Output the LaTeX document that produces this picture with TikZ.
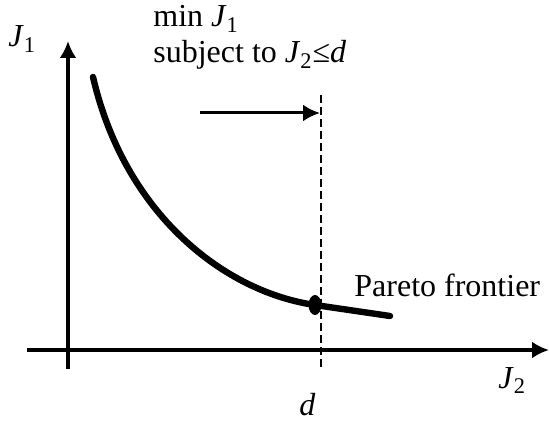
\documentclass[tikz,border=0pt]{standalone}
\usepackage{fontspec}
\setmainfont{Liberation Serif}
\usetikzlibrary{arrows.meta,positioning,shapes.geometric}
\newcommand{\Jsub}[1]{\textit{J}\textsubscript{#1}}

\begin{document}
\begin{tikzpicture}[x=0.5pt,y=-0.5pt,>={Latex[length=8.5pt,width=8.5pt]},
  axis/.style={line width=2pt},
  lbl/.style={font=\fontsize{16}{18}\selectfont, inner sep=0pt, anchor=base west}]
\useasboundingbox (0,0) rectangle (549,427);

% axes
\coordinate (xstart) at (27,350);
\coordinate (xend) at (549,350);
\coordinate (ystart) at (68,369);
\coordinate (yend) at (68,41);
\draw[axis,->] (xstart) -- (xend);
\draw[axis,->] (ystart) -- (yend);
\node[lbl] (jone) at (8,47) {\Jsub{1}};
\node[lbl] (jtwo) at (498,388) {\Jsub{2}};

% constraint J2 <= d
\coordinate (dtop) at (321,95);
\coordinate (dbot) at (321,369);
\draw[line width=1.2pt, dash pattern=on 3.8pt off 2.2pt] (dtop) -- (dbot);
\node[lbl] (dlbl) at (299,415) {\textit{d}};
\coordinate (push) at (200,113);
\coordinate (pushend) at (320,113);
\draw[line width=1.5pt,->] (push) -- (pushend);

\node[lbl] (minj) at (153,27) {min \Jsub{1}};
\node[lbl] (subj) at (153,63) {subject to \Jsub{2}≤\textit{d}};

% pareto curve
\coordinate (cstart) at (93,77);
\coordinate (cend) at (390,316);
\node[fill, ellipse, minimum width=6.5pt, minimum height=10pt, inner sep=0pt] (opt) at (315,305) {};
\draw[line width=3.2pt, line cap=round]
  (cstart) .. controls (125,215) and (225,292) .. (opt.center) -- (cend);
\node[lbl] (pareto) at (354,296) {Pareto frontier};
\end{tikzpicture}
\end{document}
